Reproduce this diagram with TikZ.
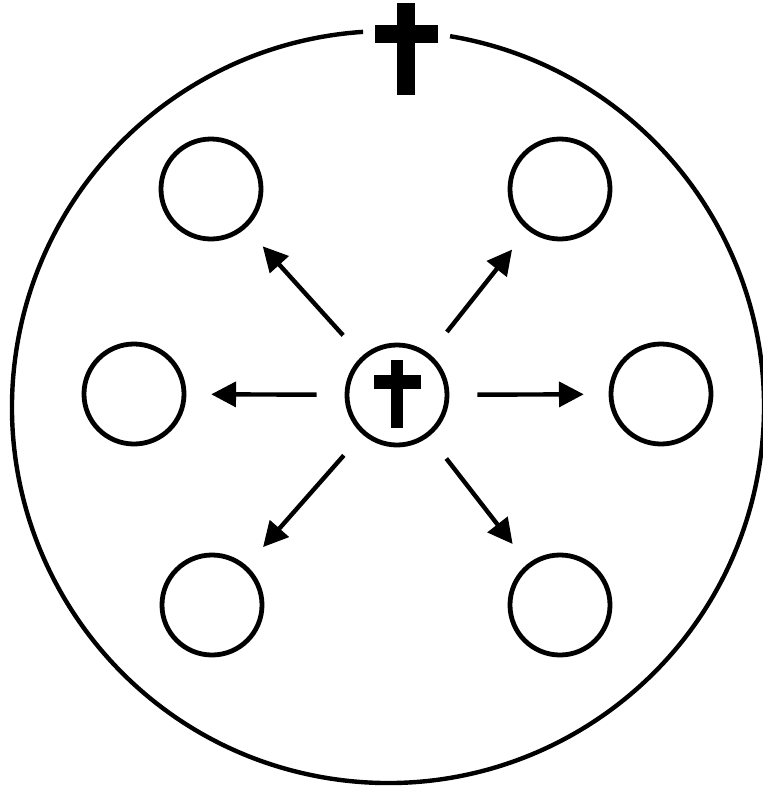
\documentclass[tikz,border=0pt]{standalone}
\usepackage{tikz}
\usetikzlibrary{arrows.meta}

\begin{document}
\begin{tikzpicture}[x=0.025cm,y=-0.025cm,
  ring/.style={circle,draw,line width=0.12cm,minimum size=2.5cm,inner sep=0pt},
  spread/.style={-{Triangle[length=0.62cm,width=0.62cm]},line width=0.11cm,shorten <=0.7cm,shorten >=0.62cm}]
\useasboundingbox (0,0) rectangle (763,791);
% outer circle, open at the top for the cross
\draw[line width=0.11cm] (388,407) ++(279.5:376) arc[start angle=279.5,end angle=626.2,radius=376];
\fill (397,3) rectangle (415,95);
\fill (375,25) rectangle (438,43);
% centre and the six circles
\node[ring] (hub) at (397,395) {};
\fill (391,360) rectangle (403,428);
\fill (374,375) rectangle (421,389);
\node[ring] (tl) at (211,189) {};
\node[ring] (tr) at (560,189) {};
\node[ring] (l) at (134,394) {};
\node[ring] (r) at (661,394) {};
\node[ring] (bl) at (212,605) {};
\node[ring] (br) at (560,605) {};
% arrows
\draw[spread] (hub) -- (tl);
\draw[spread] (hub) -- (tr);
\draw[spread] (hub) -- (l);
\draw[spread] (hub) -- (r);
\draw[spread] (hub) -- (bl);
\draw[spread] (hub) -- (br);
\end{tikzpicture}
\end{document}
